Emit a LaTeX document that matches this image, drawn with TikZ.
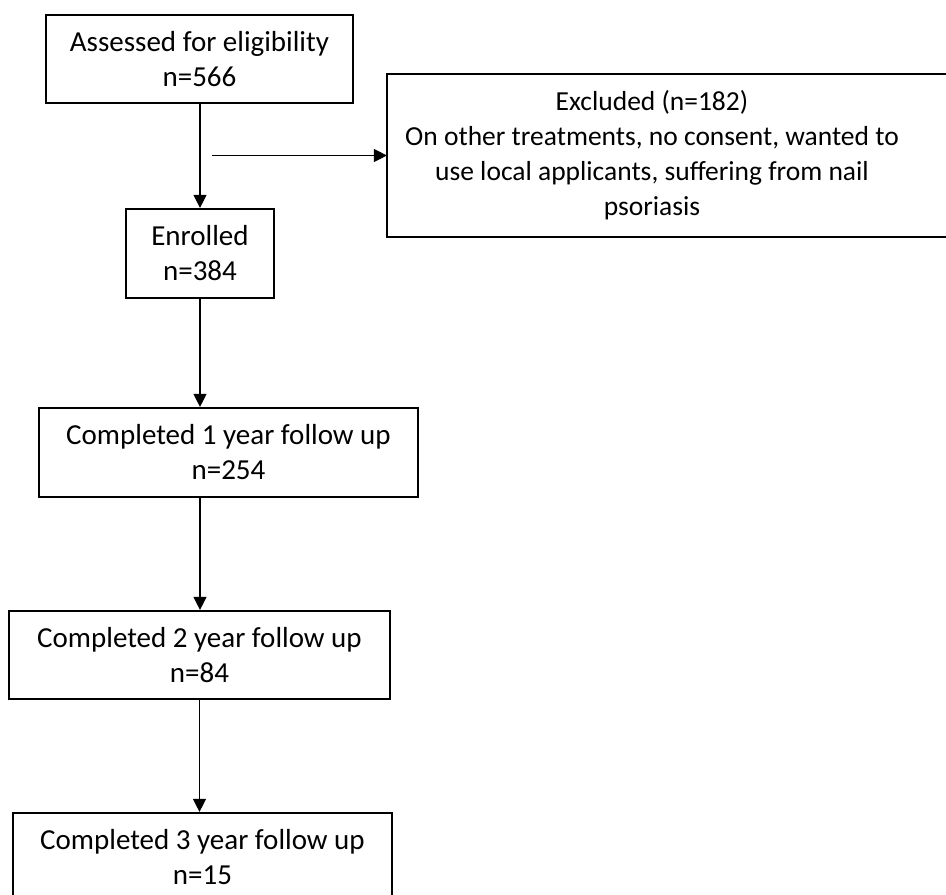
\documentclass[tikz,border=0pt]{standalone}
\usepackage{fontspec}
\setmainfont{Carlito}
\usetikzlibrary{arrows.meta,positioning}

\begin{document}
\begin{tikzpicture}[x=1pt,y=-1pt,
  box/.style={draw,line width=2.2pt,font={\fontsize{29}{35}\selectfont},align=center,inner sep=0pt},
  e/.style={-{Triangle[length=13pt,width=13pt]},line width=1.3pt}]

\useasboundingbox (0,0) rectangle (946,895);

% ---- main column ----
\node[box,minimum width=307,minimum height=88] (assessed) at (199.5,59) {Assessed for eligibility\\ n=566};
\node[box,minimum width=148,minimum height=89] (enrolled) at (200,253.5) {Enrolled\\ n=384};
\node[box,minimum width=379,minimum height=89] (year1) at (228.5,452.5) {Completed 1 year follow up\\ n=254};
\node[box,minimum width=381,minimum height=88] (year2) at (199.5,655) {Completed 2 year follow up\\ n=84};
\node[box,minimum width=379,minimum height=88] (year3) at (202.5,857) {Completed 3 year follow up\\ n=15};

% ---- exclusions (box runs off the right edge) ----
\node[box,draw=none,minimum height=161,font={\fontsize{27.5}{35}\selectfont}] (excluded) at (692,155.5)
  {\parbox{528pt}{\centering Excluded (n=182)\\ On other treatments, no consent, wanted to\\ use local applicants, suffering from nail\\ psoriasis}\hspace*{80pt}};
\draw[line width=2.2pt] (excluded.north east) -- (excluded.north west) -- (excluded.south west) -- (excluded.south east);
\coordinate (split) at (212,155.5);

\draw[e] (assessed.south -| enrolled) -- (enrolled.north);
\draw[e] (split) -- (excluded.west);
\draw[e] (enrolled.south) -- (enrolled.south |- year1.north);
\draw[e] (year1.south -| enrolled) -- (enrolled |- year2.north);
\draw[e] (year2.south) -- (year2.south |- year3.north);
\end{tikzpicture}
\end{document}
